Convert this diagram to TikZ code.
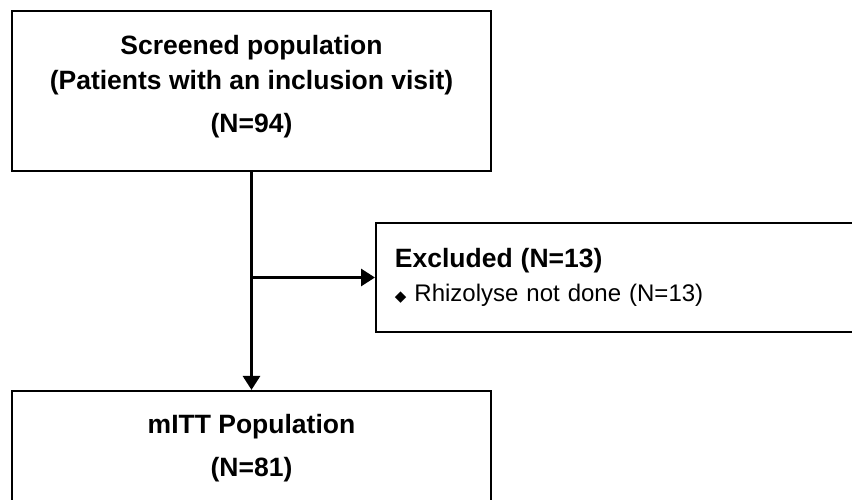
\documentclass[tikz,border=0pt]{standalone}
\usepackage{fontspec}
\setmainfont{Liberation Sans}
\newfontfamily\symfont{DejaVu Sans}
\usetikzlibrary{arrows.meta}
\usetikzlibrary{positioning}

\begin{document}
\begin{tikzpicture}[x=1pt,y=1pt,
		popbox/.style={rectangle,draw=black,line width=1.8pt,minimum width=479pt,align=center,font=\fontsize{26.5}{35}\selectfont\bfseries},
		exclbox/.style={rectangle,draw=black,line width=1.8pt,minimum height=109pt,text width=467pt,inner xsep=19pt,align=left,font=\fontsize{24}{34}\selectfont},
		flow/.style={line width=3pt,-{Triangle[length=14pt,width=17pt]}}]
		
		% canvas
		\useasboundingbox (0,0) rectangle (852,-500);
		\clip (0,0) rectangle (852,-500);
		
		% node positions
		\node[popbox, minimum height=160pt] (screen) at (251.5,-91) {Screened population\\(Patients with an inclusion visit)\\[8pt](N=94)\rule[-14pt]{0pt}{1pt}};
		\node[popbox, minimum height=115pt, below = 218pt of screen] (mitt) {mITT Population\\[8pt](N=81)};
		\node[exclbox, anchor=west] (excl) at (375,-277.5) {{\bfseries\fontsize{26.5}{34}\selectfont Excluded (N=13)}\\{\symfont\fontsize{15}{15}\selectfont ◆} Rhizolyse not done (N=13)};
		\coordinate (split) at (screen.south |- excl.west);
		
		% arrows
		\draw[flow] (screen.south) -- (mitt.north);
		\draw[flow] (split) -- (excl.west);
		
\end{tikzpicture}
\end{document}
